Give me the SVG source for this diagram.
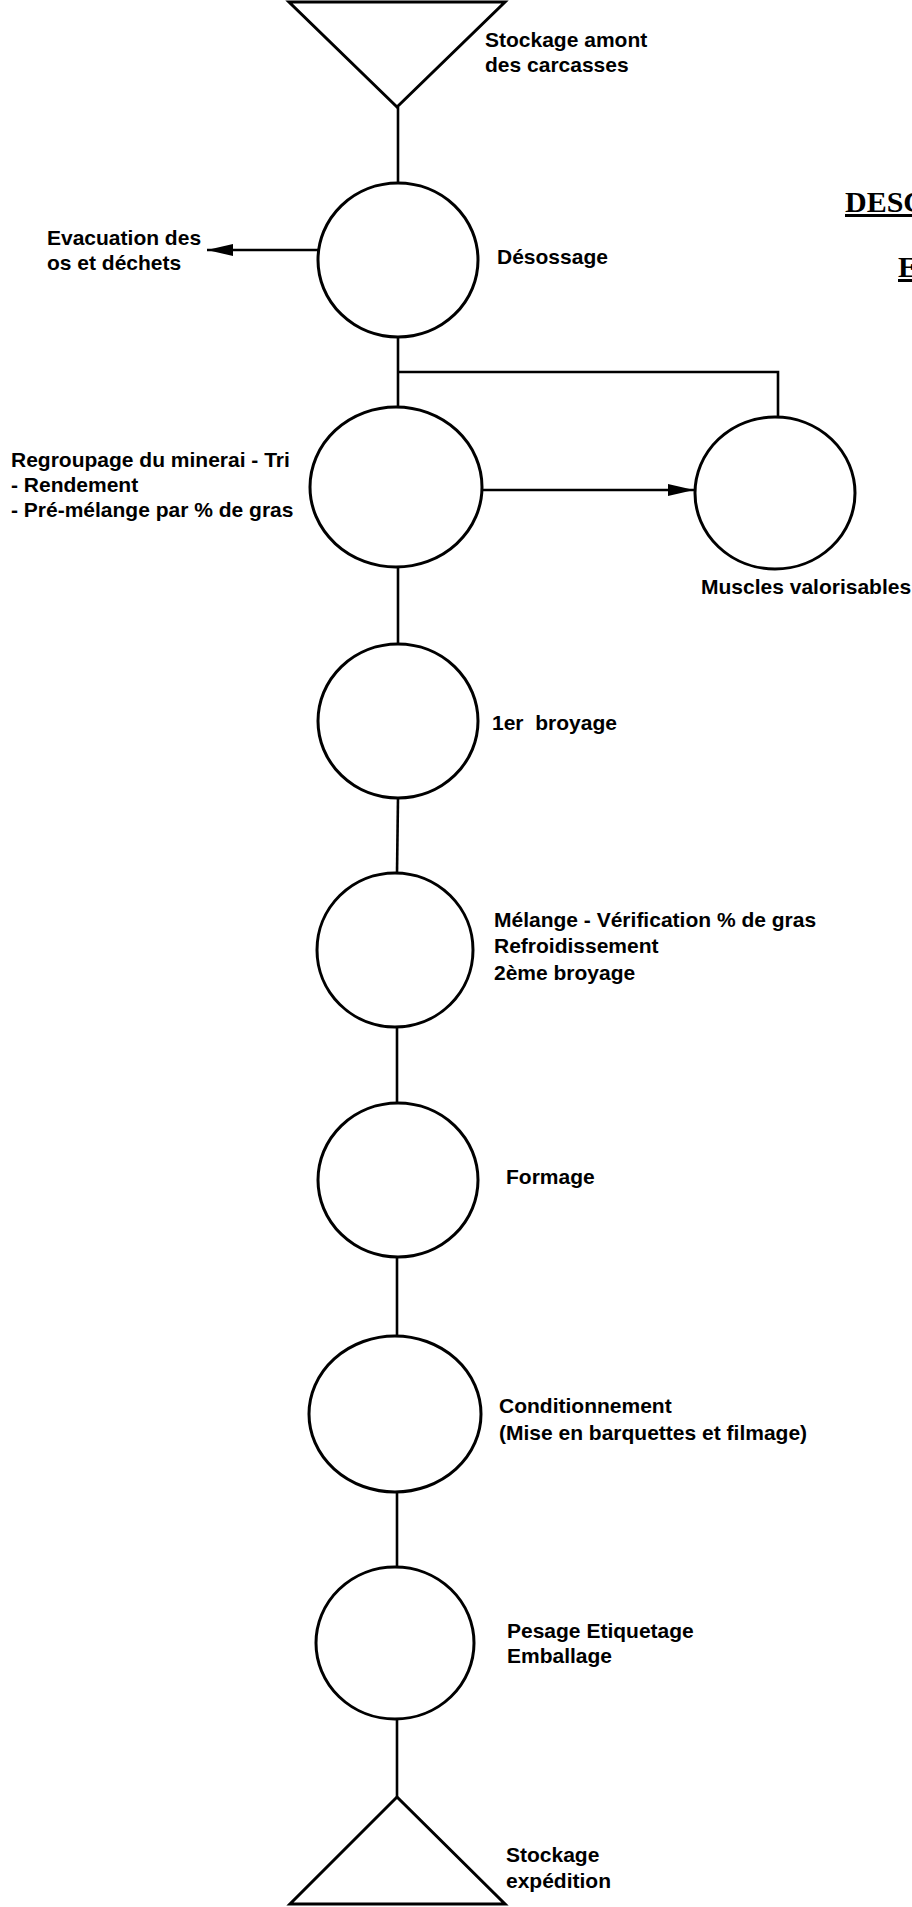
<svg xmlns="http://www.w3.org/2000/svg" width="912" height="1907" viewBox="0 0 912 1907">
  <style>
    .shape { fill: none; stroke: #000; stroke-width: 3; }
    .conn { fill: none; stroke: #000; stroke-width: 2.6; }
    .lbl { font-family: "Liberation Sans", Arial, sans-serif; font-size: 21px; font-weight: bold; fill: #000; }
    .title { font-family: "Liberation Serif", "Times New Roman", serif; font-size: 30px; font-weight: bold; fill: #000; text-decoration: underline; }
  </style>
  <defs>
    <marker id="arrow" viewBox="0 0 26 12" refX="26" refY="6" markerWidth="26" markerHeight="12" markerUnits="userSpaceOnUse" orient="auto">
      <path d="M0,0 L26,6 L0,12 Z" fill="#000"/>
    </marker>
  </defs>
  <rect x="0" y="0" width="912" height="1907" fill="#fff"/>

  <g id="connectors">
    <line class="conn" x1="398" y1="107" x2="398" y2="183"/>
    <line class="conn" x1="318" y1="250" x2="207" y2="250" marker-end="url(#arrow)"/>
    <line class="conn" x1="398" y1="337" x2="398" y2="407"/>
    <polyline class="conn" points="398,372 778,372 778,417"/>
    <line class="conn" x1="482" y1="490" x2="694" y2="490" marker-end="url(#arrow)"/>
    <line class="conn" x1="398" y1="567" x2="398" y2="644"/>
    <line class="conn" x1="398" y1="798" x2="397" y2="873"/>
    <line class="conn" x1="397" y1="1027" x2="397" y2="1103"/>
    <line class="conn" x1="397" y1="1257" x2="397" y2="1336"/>
    <line class="conn" x1="397" y1="1492" x2="397" y2="1567"/>
    <line class="conn" x1="397" y1="1719" x2="397" y2="1797"/>
  </g>

  <g id="title">
    <text class="title" x="845" y="212">DESC</text>
    <text class="title" x="898" y="277">E</text>
  </g>

  <g id="stockage-amont">
    <polygon class="shape" points="289,2 505,2 397,107"/>
    <text class="lbl" x="485" y="47">Stockage amont</text>
    <text class="lbl" x="485" y="72">des carcasses</text>
  </g>

  <g id="desossage">
    <ellipse class="shape" cx="398" cy="260" rx="80" ry="77"/>
    <text class="lbl" x="497" y="264">Désossage</text>
  </g>

  <g id="evacuation">
    <text class="lbl" x="47" y="245">Evacuation des</text>
    <text class="lbl" x="47" y="270">os et déchets</text>
  </g>

  <g id="regroupage">
    <ellipse class="shape" cx="396" cy="487" rx="86" ry="80"/>
    <text class="lbl" x="11" y="467">Regroupage du minerai - Tri</text>
    <text class="lbl" x="11" y="492">- Rendement</text>
    <text class="lbl" x="11" y="517">- Pré-mélange par % de gras</text>
  </g>

  <g id="muscles">
    <ellipse class="shape" cx="775" cy="493" rx="80" ry="76"/>
    <text class="lbl" x="701" y="594">Muscles valorisables</text>
  </g>

  <g id="broyage1">
    <ellipse class="shape" cx="398" cy="721" rx="80" ry="77"/>
    <text class="lbl" x="492" y="730" xml:space="preserve">1er  broyage</text>
  </g>

  <g id="melange">
    <ellipse class="shape" cx="395" cy="950" rx="78" ry="77"/>
    <text class="lbl" x="494" y="927">Mélange - Vérification % de gras</text>
    <text class="lbl" x="494" y="953">Refroidissement</text>
    <text class="lbl" x="494" y="980">2ème broyage</text>
  </g>

  <g id="formage">
    <ellipse class="shape" cx="398" cy="1180" rx="80" ry="77"/>
    <text class="lbl" x="506" y="1184">Formage</text>
  </g>

  <g id="conditionnement">
    <ellipse class="shape" cx="395" cy="1414" rx="86" ry="78"/>
    <text class="lbl" x="499" y="1413">Conditionnement</text>
    <text class="lbl" x="499" y="1440">(Mise en barquettes et filmage)</text>
  </g>

  <g id="pesage">
    <ellipse class="shape" cx="395" cy="1643" rx="79" ry="76"/>
    <text class="lbl" x="507" y="1638">Pesage Etiquetage</text>
    <text class="lbl" x="507" y="1663">Emballage</text>
  </g>

  <g id="stockage-expedition">
    <polygon class="shape" points="397,1797 505,1904 290,1904"/>
    <text class="lbl" x="506" y="1862">Stockage</text>
    <text class="lbl" x="506" y="1888">expédition</text>
  </g>
</svg>
